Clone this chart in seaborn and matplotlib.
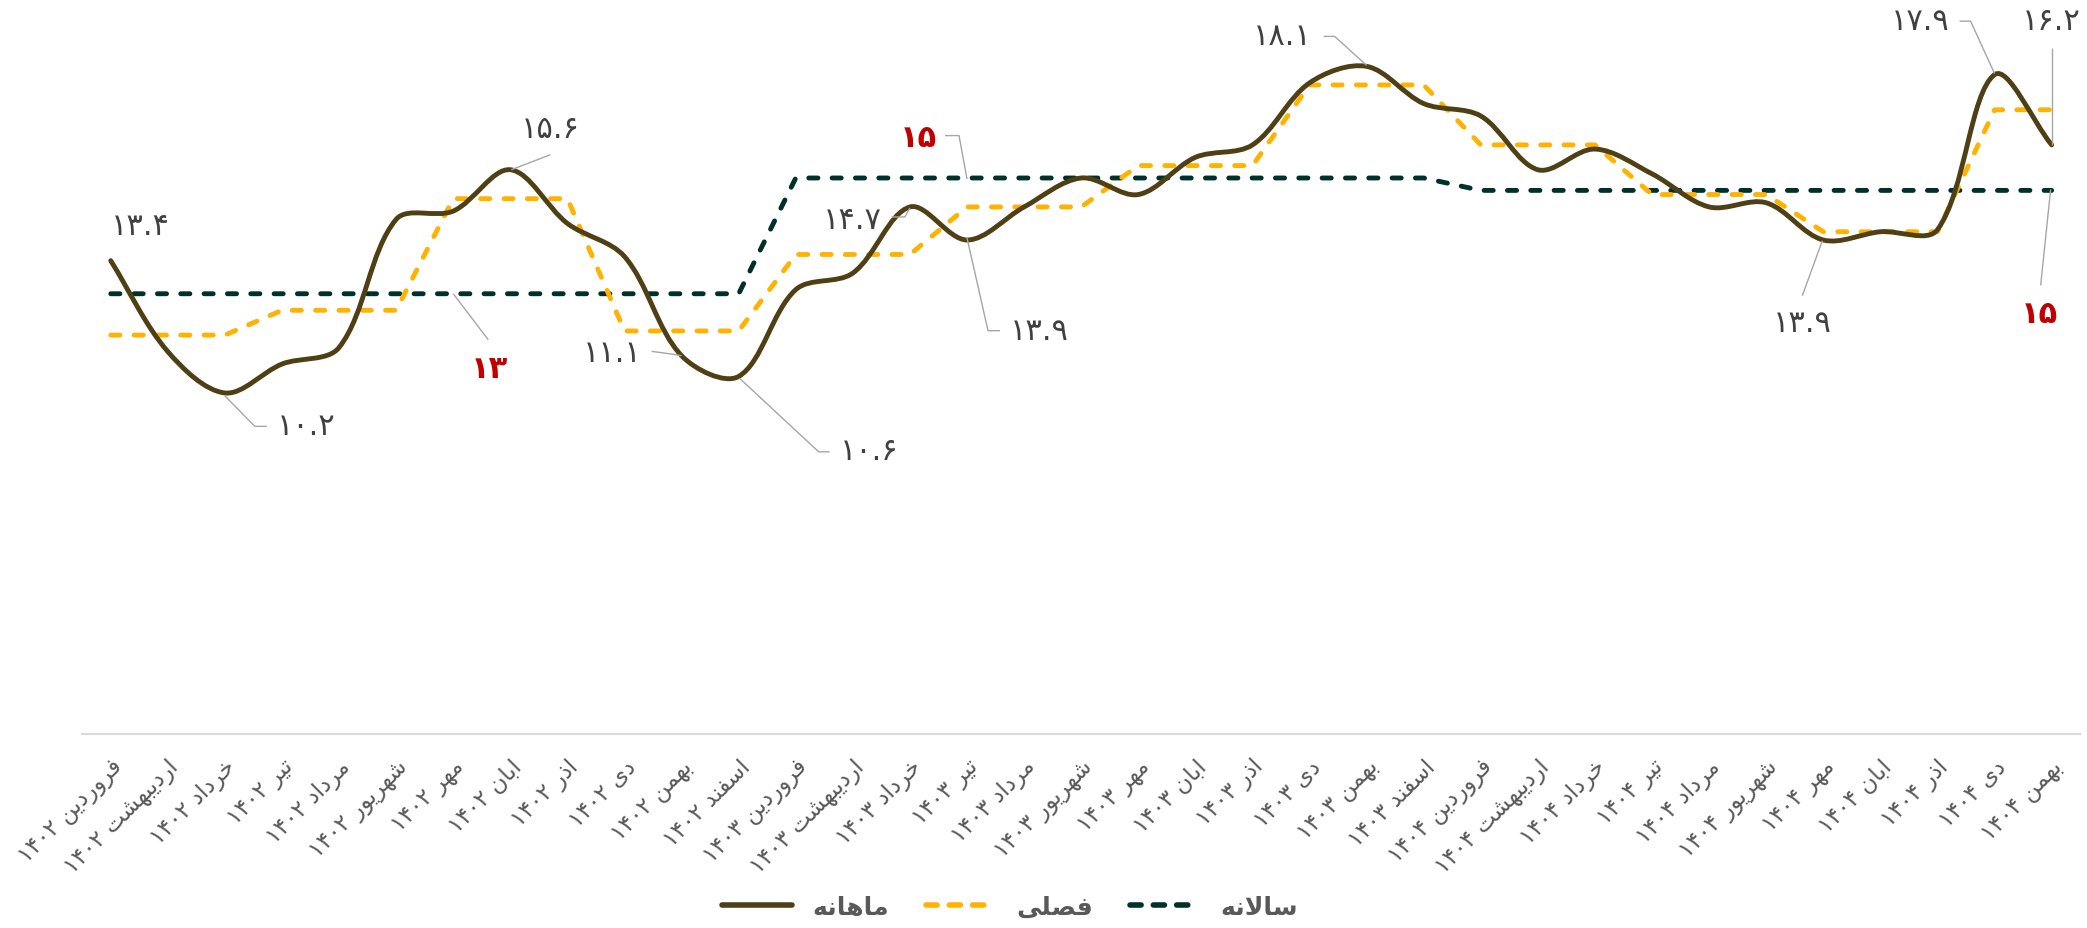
import numpy as np
import matplotlib
matplotlib.use("Agg")
import matplotlib.pyplot as plt
import seaborn as sns
from matplotlib.path import Path
from matplotlib.patches import PathPatch
from matplotlib.lines import Line2D

# ---------------- data ----------------
categories = [
    'فروردین ۱۴۰۲', 'اردیبهشت ۱۴۰۲', 'خرداد ۱۴۰۲', 'تیر ۱۴۰۲', 'مرداد ۱۴۰۲', 'شهریور ۱۴۰۲',
    'مهر ۱۴۰۲', 'ابان ۱۴۰۲', 'اذر ۱۴۰۲', 'دی ۱۴۰۲', 'بهمن ۱۴۰۲', 'اسفند ۱۴۰۲',
    'فروردین ۱۴۰۳', 'اردیبهشت ۱۴۰۳', 'خرداد ۱۴۰۳', 'تیر ۱۴۰۳', 'مرداد ۱۴۰۳', 'شهریور ۱۴۰۳',
    'مهر ۱۴۰۳', 'ابان ۱۴۰۳', 'اذر ۱۴۰۳', 'دی ۱۴۰۳', 'بهمن ۱۴۰۳', 'اسفند ۱۴۰۳',
    'فروردین ۱۴۰۴', 'اردیبهشت ۱۴۰۴', 'خرداد ۱۴۰۴', 'تیر ۱۴۰۴', 'مرداد ۱۴۰۴', 'شهریور ۱۴۰۴',
    'مهر ۱۴۰۴', 'ابان ۱۴۰۴', 'اذر ۱۴۰۴', 'دی ۱۴۰۴', 'بهمن ۱۴۰۴',
]
monthly = [13.4, 11.2, 10.2, 10.9, 11.3, 14.4, 14.6, 15.6, 14.3, 13.5, 11.1, 10.6,
           12.7, 13.1, 14.7, 13.9, 14.7, 15.4, 15.0, 15.9, 16.2, 17.7, 18.1, 17.2,
           16.9, 15.6, 16.1, 15.5, 14.7, 14.8, 13.9, 14.1, 14.15, 17.9, 16.2]
seasonal = [11.6, 11.6, 11.6, 12.2, 12.2, 12.2, 14.9, 14.9, 14.9, 11.7, 11.7, 11.7,
            13.55, 13.55, 13.55, 14.7, 14.7, 14.7, 15.7, 15.7, 15.7, 17.65, 17.65, 17.65,
            16.2, 16.2, 16.2, 15.0, 15.0, 15.0, 14.1, 14.1, 14.1, 17.05, 17.05]
annual = [12.6, 12.6, 12.6, 12.6, 12.6, 12.6, 12.6, 12.6, 12.6, 12.6, 12.6, 12.6,
          15.4, 15.4, 15.4, 15.4, 15.4, 15.4, 15.4, 15.4, 15.4, 15.4, 15.4, 15.4,
          15.1, 15.1, 15.1, 15.1, 15.1, 15.1, 15.1, 15.1, 15.1, 15.1, 15.1]
series_names = ['ماهانه', 'فصلی', 'سالانه']

# which points get data labels (series, index)
monthly_label_idx = [0, 2, 7, 10, 11, 14, 15, 22, 30, 33, 34]
annual_label_idx = [6, 15, 34]

# ---------------- styles / placement (pixels, y down) ----------------
COL_M, COL_S, COL_A = '#4F3F14', '#FFB300', '#00302A'
TXT, RED, LEAD = '#404040', '#C00000', '#A6A6A6'
label_place = {  # (dx, dy_baseline, ha, leader points)
    ('m', 0): (30, -26.7, 'center', []),
    ('m', 2): (52, 41, 'left', [(0, 3), (30, 33.4), (42, 33.4)]),
    ('m', 7): (40, -32.8, 'center', [(1, 0), (40, -15)]),
    ('m', 10): (-40, 5.3, 'right', [(-30, -4.4), (-10, -1.7), (0, 0)]),
    ('m', 11): (101, 82.7, 'left', [(1, 2), (80, 75.4), (91, 75.4)]),
    ('m', 14): (-28, 20.7, 'right', [(0, 1), (-5, 10), (-18, 10)]),
    ('m', 15): (43, 99, 'left', [(0, -2), (21, 90.7), (33, 90.7)]),
    ('m', 22): (-55, -22.5, 'right', [(-43, -30), (-32, -30), (0, -1)]),
    ('m', 30): (-21, 91, 'center', [(-21, 55.7), (-1, 0.7)]),
    ('m', 33): (-45, -45.8, 'right', [(-35, -53.5), (-24, -53.5), (0, -1)]),
    ('m', 34): (0, -116, 'center', [(0, -97), (0, 0)]),
    ('a', 6): (36, 83.2, 'center', [(0, 0), (35, 46)]),
    ('a', 15): (-30, -32.1, 'right', [(0, 1), (-8, -42.4), (-22, -42.4)]),
    ('a', 34): (-12, 131.5, 'center', [(-11, 95), (-1, -1)]),
}

# ---------------- Persian text helpers ----------------
FORMS = {
    'ا': ('\ufe8d', '\ufe8e', None, None),
    'ب': ('\ufe8f', '\ufe90', '\ufe91', '\ufe92'),
    'ت': ('\ufe95', '\ufe96', '\ufe97', '\ufe98'),
    'خ': ('\ufea5', '\ufea6', '\ufea7', '\ufea8'),
    'د': ('\ufea9', '\ufeaa', None, None),
    'ذ': ('\ufeab', '\ufeac', None, None),
    'ر': ('\ufead', '\ufeae', None, None),
    'ز': ('\ufeaf', '\ufeb0', None, None),
    'س': ('\ufeb1', '\ufeb2', '\ufeb3', '\ufeb4'),
    'ش': ('\ufeb5', '\ufeb6', '\ufeb7', '\ufeb8'),
    'ص': ('\ufeb9', '\ufeba', '\ufebb', '\ufebc'),
    'ف': ('\ufed1', '\ufed2', '\ufed3', '\ufed4'),
    'ل': ('\ufedd', '\ufede', '\ufedf', '\ufee0'),
    'م': ('\ufee1', '\ufee2', '\ufee3', '\ufee4'),
    'ن': ('\ufee5', '\ufee6', '\ufee7', '\ufee8'),
    'ه': ('\ufee9', '\ufeea', '\ufeeb', '\ufeec'),
    'و': ('\ufeed', '\ufeee', None, None),
    'ی': ('\ufeef', '\ufef0', '\ufef3', '\ufef4'),
}


def _dual(c):
    return c in FORMS and FORMS[c][2] is not None


def shape_word(w):
    out, i, n = [], 0, len(w)
    while i < n:
        c = w[i]
        if c not in FORMS:
            out.append(c); i += 1; continue
        pj = i > 0 and _dual(w[i - 1])
        if c == 'ل' and i + 1 < n and w[i + 1] == 'ا':
            out.append('\ufefc' if pj else '\ufefb'); i += 2; continue
        nj = _dual(c) and i + 1 < n and w[i + 1] in FORMS
        iso, fin, ini, med = FORMS[c]
        out.append(med if (pj and nj) else fin if pj else ini if nj else iso)
        i += 1
    return ''.join(reversed(out))


def fa(text):
    toks = text.split(' ')
    vis = [shape_word(t) if any(ch in FORMS for ch in t) else t for t in reversed(toks)]
    return ' '.join(vis)


def fa_num(s):
    return s.translate(str.maketrans('0123456789', '۰۱۲۳۴۵۶۷۸۹'))


# ---------------- figure ----------------
sns.set_theme(style='white')
plt.rcParams['font.family'] = ['DejaVu Sans']

W, H = 2087, 929
fig = plt.figure(figsize=(W / 100, H / 100), dpi=100)
ax = fig.add_axes([82.2 / W, (H - 735) / H, 1998 / W, 735 / H])
ax.set_xlim(-0.5, len(categories) - 0.5)
ax.set_ylim(1.95, 19.73)
sns.despine(ax=ax, left=True)
ax.spines['bottom'].set_color('#D9D9D9')
ax.spines['bottom'].set_linewidth(1.5)
ax.set_yticks([])
ax.set_xticks(range(len(categories)))
ax.set_xticklabels([fa(c) for c in categories], rotation=45, ha='right', va='top',
                   rotation_mode='anchor', fontsize=16.5, color='#595959')
ax.tick_params(axis='x', length=0, pad=15)
ax.grid(False)


def smooth_path(xs, ys, f=1 / 6):
    P = ax.transData.transform(np.column_stack([xs, ys]))
    n = len(P)
    d = np.hypot(*np.diff(P, axis=0).T)
    dy = np.diff(ys)
    cin = P.copy(); cout = P.copy()
    for i in range(n):
        prev = P[i - 1] if i > 0 else P[i]
        nxt = P[i + 1] if i < n - 1 else P[i]
        flat = (i > 0 and dy[i - 1] == 0) or (i < n - 1 and dy[i] == 0)
        if flat:
            cin[i] = P[i] - (P[i] - prev) / 3
            cout[i] = P[i] + (nxt - P[i]) / 3
        else:
            d0 = d[i - 1] if i > 0 else 0.0
            d1 = d[i] if i < n - 1 else 0.0
            tan = nxt - prev
            s = d0 + d1
            cout[i] = P[i] + tan * f * 2 * d1 / s
            cin[i] = P[i] - tan * f * 2 * d0 / s
    verts, codes = [P[0]], [Path.MOVETO]
    for i in range(n - 1):
        verts += [cout[i], cin[i + 1], P[i + 1]]
        codes += [Path.CURVE4] * 3
    return Path(ax.transData.inverted().transform(np.array(verts)), codes)


x = np.arange(len(categories))
LW = 3.5
DASH = (0, (1.88, 2.92))
styles = [(annual, COL_A, DASH, 2), (seasonal, COL_S, DASH, 3), (monthly, COL_M, '-', 4)]
for vals, col, ls, z in styles:
    patch = PathPatch(smooth_path(x, np.array(vals, float)), fill=False, edgecolor=col,
                      lw=LW, linestyle=ls, capstyle='round', joinstyle='round', zorder=z)
    ax.add_patch(patch)

# ---------------- data labels ----------------
to_data = ax.transData.inverted()


def place(key, val, text, color, size, weight):
    dx, dyb, ha, lead = label_place[key]
    X, Y = ax.transData.transform((key[1], val))
    if lead:
        pts = np.array([(X + a, Y - b) for a, b in lead])
        dpts = to_data.transform(pts)
        ax.plot(dpts[:, 0], dpts[:, 1], color=LEAD, lw=1.0, clip_on=False, zorder=5,
                solid_capstyle='butt')
    tx, ty = to_data.transform((X + dx, Y - dyb))
    ax.text(tx, ty, text, ha=ha, va='baseline', color=color, fontsize=size,
            fontweight=weight, clip_on=False, zorder=6)


for i in monthly_label_idx:
    place(('m', i), monthly[i], fa_num(f'{monthly[i]:.1f}'), TXT, 22, 'normal')
for i in annual_label_idx:
    place(('a', i), annual[i], fa_num(f'{round(annual[i])}'), RED, 22, 'bold')

# ---------------- legend ----------------
handles = [Line2D([], [], color=COL_M, lw=4, solid_capstyle='round'),
           Line2D([], [], color=COL_S, lw=4, linestyle=(0, (2.0, 2.2)), dash_capstyle='round'),
           Line2D([], [], color=COL_A, lw=4, linestyle=(0, (2.0, 2.2)), dash_capstyle='round')]
leg = fig.legend(handles, [fa(s) for s in series_names], loc='center', ncol=3,
                 bbox_to_anchor=(1010 / W, (H - 908) / H), frameon=False,
                 prop={'size': 18, 'weight': 'bold'}, handlelength=2.8,
                 handletextpad=0.8, columnspacing=1.5, borderpad=0.1)
for t in leg.get_texts():
    t.set_color('#595959')

fig.savefig('out.png', dpi=100, facecolor='white')
